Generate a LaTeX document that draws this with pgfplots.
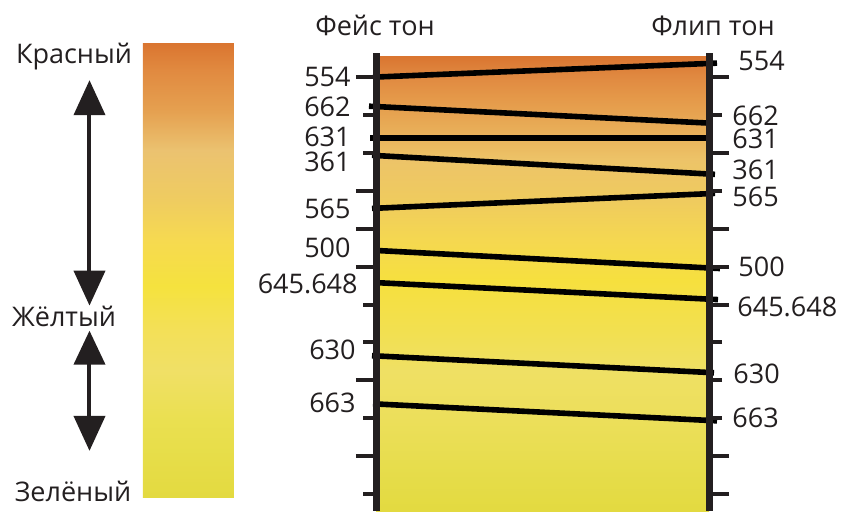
\documentclass[border=0pt]{standalone}
\usepackage{pgfplots}
\pgfplotsset{compat=1.18}
\usepackage{fontspec}
\setmainfont{Open Sans}
\usetikzlibrary{arrows.meta}
\definecolor{axisc}{HTML}{231F20}
% right panel gradient
\definecolor{ra1}{HTML}{E3DA40}
\definecolor{ra2}{HTML}{E5DC48}
\definecolor{ra3}{HTML}{ECDF5A}
\definecolor{ra4}{HTML}{EFE064}
\definecolor{ra5}{HTML}{F2E050}
\definecolor{ra6}{HTML}{F6E03E}
\definecolor{ra7}{HTML}{F5D850}
\definecolor{ra8}{HTML}{EFCB5E}
\definecolor{ra9}{HTML}{EDC468}
\definecolor{ra10}{HTML}{E8AE58}
\definecolor{ra11}{HTML}{E59A4A}
\definecolor{ra12}{HTML}{E08840}
\definecolor{ra13}{HTML}{DA7530}
% left bar gradient
\definecolor{la1}{HTML}{E3DA40}
\definecolor{la2}{HTML}{EAE050}
\definecolor{la3}{HTML}{F0E066}
\definecolor{la4}{HTML}{F3E058}
\definecolor{la5}{HTML}{F5E23E}
\definecolor{la6}{HTML}{F6DA50}
\definecolor{la7}{HTML}{EFCC60}
\definecolor{la8}{HTML}{EBC270}
\definecolor{la9}{HTML}{E5A050}
\definecolor{la10}{HTML}{E18A40}
\definecolor{la11}{HTML}{DA7530}
\pgfdeclareverticalshading{rightgrad}{100bp}{color(0bp)=(ra1); color(25bp)=(ra1); color(28.3bp)=(ra2); color(34.9bp)=(ra3); color(40.4bp)=(ra4); color(44.8bp)=(ra5); color(50.3bp)=(ra6); color(54.7bp)=(ra7); color(59.1bp)=(ra8); color(63.5bp)=(ra9); color(66.9bp)=(ra10); color(70.2bp)=(ra11); color(72.9bp)=(ra12); color(75bp)=(ra13); color(100bp)=(ra13)}
\pgfdeclareverticalshading{leftgrad}{100bp}{color(0bp)=(la1); color(25bp)=(la1); color(33.5bp)=(la2); color(39bp)=(la3); color(43.4bp)=(la4); color(48.3bp)=(la5); color(53.3bp)=(la6); color(57.7bp)=(la7); color(63.2bp)=(la8); color(67.6bp)=(la9); color(72bp)=(la10); color(75bp)=(la11); color(100bp)=(la11)}

\pgfplotstableread{
x y label
351 77 554
351 107 662
351 137 631
351 162 361
351 208 565
351 247 500
358 283 645.648
356 349 630
356 402 663
}\leftlabels
\pgfplotstableread{
x y label
738 61 554
732 116 662
732 139 631
732 170 361
732 196 565
738 266 500
737 306 645.648
733 373 630
732 417 663
}\rightlabels

\tikzset{
  tone/.style={line width=2.8pt, black},
  lab/.style={font=\fontsize{13.5pt}{16pt}\selectfont, inner sep=0pt, text=axisc},
}
\pgfplotsset{
  myaxis/.style={
    scale only axis, width=166.5pt, height=228.5pt,
    xmin=376, xmax=709, ymin=53, ymax=510, y dir=reverse,
    axis x line=none,
    yticklabel={\mbox{}},
    y tick label style={text opacity=0},
    tick align=outside,
    major tick length=10pt,
    tick style={line width=2pt, color=axisc},
    extra y tick style={yticklabel={\mbox{}}, major tick length=6.5pt},
    y axis line style={line width=3.5pt, color=axisc, -},
    clip=false,
  },
}

\begin{document}
\begin{tikzpicture}
\begin{axis}[myaxis, axis y line*=left, axis on top,
  ytick={77,191,229,266,379,455},
  extra y ticks={115,153,304,341,417,493}]
  \shade[shading=rightgrad] (axis cs:376,56) rectangle (axis cs:709,510);
  \shade[shading=leftgrad] (axis cs:143,43) rectangle (axis cs:234,497);
  % tone lines: face tone (left) -> flip tone (right)
  \addplot[tone] coordinates {(373,77) (717,63)};
  \addplot[tone] coordinates {(369,106) (712,123)};
  \addplot[tone] coordinates {(370,138) (713,138)};
  \addplot[tone] coordinates {(372,155) (715,174)};
  \addplot[tone] coordinates {(372,208) (715,193)};
  \addplot[tone] coordinates {(377,250) (720,268)};
  \addplot[tone] coordinates {(375,282) (718,299)};
  \addplot[tone] coordinates {(372,355) (714,372)};
  \addplot[tone] coordinates {(373,403) (717,420)};
  % labels
  \addplot[only marks, mark=none, point meta=explicit symbolic, nodes near coords,
    nodes near coords style={lab, anchor=east}] table[meta=label] {\leftlabels};
  \addplot[only marks, mark=none, point meta=explicit symbolic, nodes near coords,
    nodes near coords style={lab, anchor=west}] table[meta=label] {\rightlabels};
  % arrows
  \addplot[line width=2pt, color=axisc, {Triangle[length=17.5pt,width=15.5pt]}-{Triangle[length=17.5pt,width=15.5pt]}] coordinates {(89.5,80) (89.5,305)};
  \addplot[line width=2pt, color=axisc, {Triangle[length=17pt,width=15.5pt]}-{Triangle[length=17.5pt,width=15.5pt]}] coordinates {(89.5,330) (89.5,450)};
  % texts
  \node[lab, anchor=base] at (axis cs:375,35) {Фейс тон};
  \node[lab, anchor=base] at (axis cs:713,35) {Флип тон};
  \node[lab, anchor=base] at (axis cs:74,63) {Красный};
  \node[lab, anchor=base] at (axis cs:64,326) {Жёлтый};
  \node[lab, anchor=base] at (axis cs:73,500) {Зелёный};
  \coordinate (bl) at (axis cs:0,510);
  \coordinate (tr) at (axis cs:846,0);
\end{axis}
\begin{axis}[myaxis, axis y line*=right,
  ytick={77,153,229,266,304,455,493},
  extra y ticks={115,191,341,379,417}]
\end{axis}
\pgfresetboundingbox
\path[use as bounding box] (bl) rectangle (tr);
\end{tikzpicture}
\end{document}
